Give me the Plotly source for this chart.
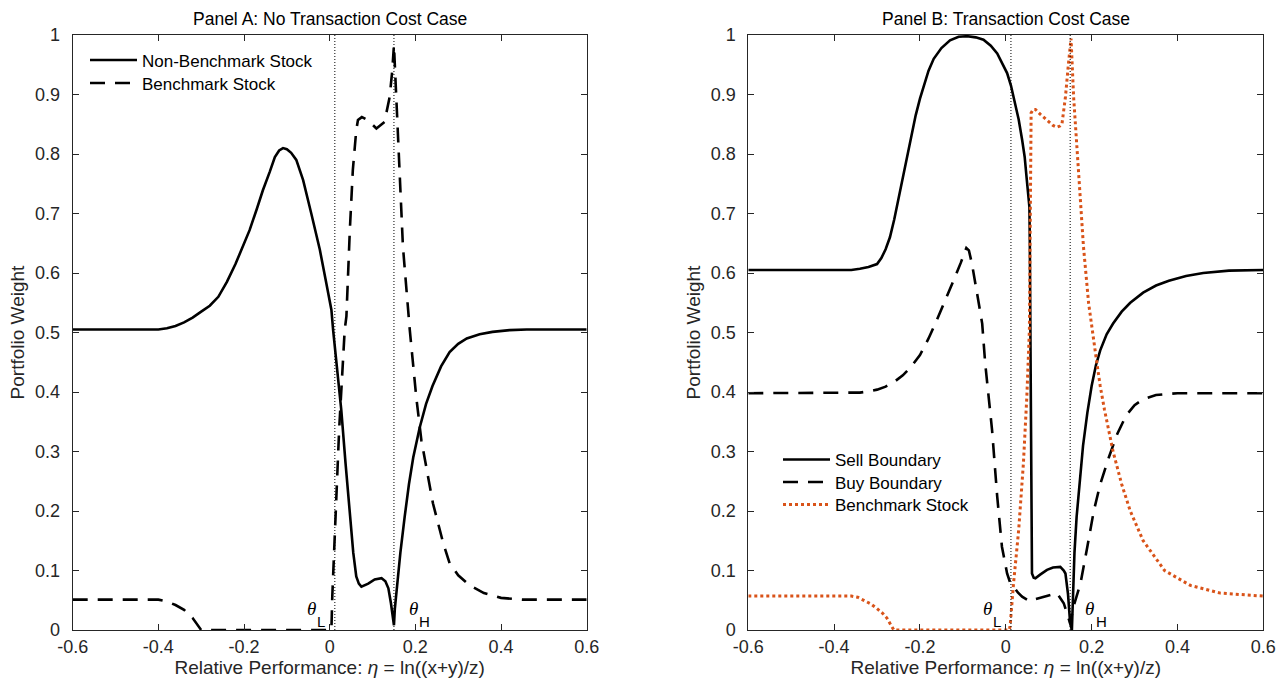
import plotly.graph_objects as go

# ---------------- Data ----------------
theta_L = 0.012
theta_H = 0.15

# Panel A: Non-Benchmark Stock (solid)
nb_a_x = [-0.6, -0.4, -0.38, -0.36, -0.34, -0.32, -0.30, -0.28, -0.26, -0.24, -0.22, -0.2, -0.187,
          -0.17, -0.156, -0.14, -0.128, -0.118, -0.109, -0.10, -0.09, -0.078, -0.062, -0.043, -0.023,
          -0.008, 0.004, 0.008, 0.017, 0.027, 0.037, 0.047, 0.055, 0.062, 0.068, 0.074, 0.082, 0.09,
          0.105, 0.121, 0.13, 0.137, 0.143, 0.147, 0.15, 0.152, 0.155, 0.16, 0.165, 0.175, 0.185,
          0.195, 0.21, 0.225, 0.24, 0.26, 0.28, 0.30, 0.32, 0.35, 0.38, 0.42, 0.46, 0.6]
nb_a_y = [0.505, 0.505, 0.507, 0.511, 0.517, 0.525, 0.535, 0.545, 0.56, 0.585, 0.615, 0.648, 0.672,
          0.708, 0.739, 0.77, 0.795, 0.806, 0.81, 0.808, 0.802, 0.79, 0.756, 0.70, 0.639,
          0.583, 0.538, 0.504, 0.44, 0.37, 0.28, 0.19, 0.13, 0.09, 0.078, 0.073, 0.075, 0.078,
          0.085, 0.087, 0.082, 0.07, 0.045, 0.025, 0.008, 0.035, 0.06, 0.095, 0.13, 0.19, 0.245,
          0.29, 0.34, 0.38, 0.41, 0.443, 0.467, 0.481, 0.49, 0.497, 0.501, 0.504, 0.505, 0.505]

# Panel A: Benchmark Stock (dashed)
bm_a_x = [-0.6, -0.40, -0.38, -0.36, -0.34, -0.32, -0.30, 0.0, 0.004, 0.006, 0.012, 0.022, 0.035,
          0.039, 0.047, 0.054, 0.062, 0.066, 0.075, 0.089, 0.109, 0.128, 0.14, 0.146, 0.15, 0.155,
          0.163, 0.171, 0.187, 0.202, 0.214, 0.241, 0.265, 0.28, 0.30, 0.327, 0.36, 0.40, 0.45, 0.6]
bm_a_y = [0.051, 0.051, 0.048, 0.042, 0.034, 0.02, 0.0, 0.0, 0.0, 0.056, 0.168, 0.336, 0.504,
          0.527, 0.672, 0.773, 0.84, 0.857, 0.862, 0.857, 0.843, 0.854, 0.896, 0.94, 0.983, 0.896,
          0.773, 0.644, 0.504, 0.392, 0.319, 0.213, 0.146, 0.112, 0.092, 0.075, 0.062, 0.054, 0.051, 0.051]

# Panel B: Sell Boundary (solid)
sell_b_x = [-0.6, -0.36, -0.34, -0.32, -0.30, -0.29, -0.28, -0.27, -0.26, -0.25, -0.24, -0.23,
            -0.22, -0.21, -0.20, -0.19, -0.18, -0.168, -0.15, -0.13, -0.11, -0.09, -0.07, -0.052,
            -0.035, -0.02, -0.01, 0.003, 0.012, 0.022, 0.03, 0.038, 0.044, 0.049, 0.053, 0.055,
            0.056, 0.057, 0.058, 0.059, 0.061, 0.065, 0.069, 0.08, 0.096, 0.11, 0.127, 0.135,
            0.139, 0.145, 0.15, 0.154, 0.156, 0.16, 0.165, 0.172, 0.18, 0.19, 0.20, 0.21, 0.22,
            0.235, 0.25, 0.27, 0.29, 0.32, 0.35, 0.38, 0.42, 0.46, 0.52, 0.6]
sell_b_y = [0.605, 0.605, 0.607, 0.61, 0.615, 0.625, 0.64, 0.66, 0.69, 0.725, 0.76, 0.795,
            0.83, 0.865, 0.893, 0.918, 0.94, 0.96, 0.978, 0.991, 0.997, 0.998, 0.996, 0.992,
            0.982, 0.969, 0.955, 0.936, 0.915, 0.885, 0.858, 0.824, 0.795, 0.756, 0.73, 0.711,
            0.65, 0.504, 0.3, 0.15, 0.095, 0.088, 0.087, 0.093, 0.101, 0.105, 0.106, 0.1,
            0.095, 0.06, 0.011, 0.0, 0.06, 0.13, 0.19, 0.25, 0.31, 0.365, 0.41, 0.445, 0.47,
            0.497, 0.515, 0.535, 0.55, 0.567, 0.579, 0.587, 0.595, 0.6, 0.604, 0.605]

# Panel B: Buy Boundary (dashed)
buy_b_x = [-0.6, -0.36, -0.34, -0.32, -0.30, -0.28, -0.26, -0.24, -0.22, -0.20, -0.18, -0.16,
           -0.14, -0.122, -0.105, -0.092, -0.086, -0.079, -0.067, -0.055, -0.048, -0.04,
           -0.032, -0.02, -0.009, 0.003, 0.01, 0.018, 0.028, 0.038, 0.057, 0.07, 0.088, 0.105,
           0.119, 0.135, 0.145, 0.15, 0.158, 0.174, 0.19, 0.205, 0.22, 0.24, 0.26, 0.28, 0.30,
           0.32, 0.35, 0.40, 0.45, 0.6]
buy_b_y = [0.398, 0.398, 0.399, 0.401, 0.404, 0.409, 0.417, 0.428, 0.443, 0.462, 0.49, 0.522,
           0.555, 0.587, 0.617, 0.642, 0.638, 0.616, 0.566, 0.515, 0.448, 0.39,
           0.336, 0.224, 0.14, 0.095, 0.08, 0.073, 0.063, 0.056, 0.048, 0.052, 0.056, 0.06,
           0.062, 0.045, 0.02, 0.011, 0.04, 0.078, 0.14, 0.2, 0.245, 0.29, 0.33, 0.36, 0.378,
           0.388, 0.395, 0.398, 0.398, 0.398]

# Panel B: Benchmark Stock (dotted)
bm_b_x = [-0.6, -0.36, -0.345, -0.331, -0.315, -0.30, -0.287, -0.277, -0.268, -0.261, 0.008, 0.01,
          0.018, 0.03, 0.041, 0.049, 0.055, 0.057, 0.059, 0.064, 0.069, 0.08, 0.096, 0.11, 0.119,
          0.126, 0.131, 0.139, 0.146, 0.152, 0.158, 0.166, 0.174, 0.181, 0.193, 0.20, 0.21, 0.22,
          0.23, 0.25, 0.27, 0.29, 0.32, 0.37, 0.43, 0.5, 0.6]
bm_b_y = [0.057, 0.057, 0.055, 0.05, 0.044, 0.036, 0.028, 0.02, 0.01, 0.0, 0.0, 0.006,
          0.078, 0.168, 0.28, 0.392, 0.504, 0.728, 0.869, 0.875, 0.875, 0.867, 0.857, 0.848, 0.845,
          0.847, 0.851, 0.896, 0.952, 0.994, 0.896, 0.812, 0.728, 0.644, 0.549, 0.51, 0.46, 0.41,
          0.37, 0.30, 0.245, 0.20, 0.15, 0.10, 0.075, 0.062, 0.057]

x_ticks = [-0.6, -0.4, -0.2, 0.0, 0.2, 0.4, 0.6]
x_tick_labels = ["-0.6", "-0.4", "-0.2", "0", "0.2", "0.4", "0.6"]
y_ticks = [0, 0.1, 0.2, 0.3, 0.4, 0.5, 0.6, 0.7, 0.8, 0.9, 1.0]
y_tick_labels = ["0", "0.1", "0.2", "0.3", "0.4", "0.5", "0.6", "0.7", "0.8", "0.9", "1"]

# ---------------- Figure ----------------
FONT = "Liberation Sans, Arial, Helvetica, sans-serif"
SERIF = "Liberation Serif, Times New Roman, serif"
AXC = "#262626"
ORANGE = "#D95319"
LW = 2.6
W, H = 1278, 690

fig = go.Figure()

fig.add_trace(go.Scatter(x=nb_a_x, y=nb_a_y, mode="lines", name="Non-Benchmark Stock",
                         line=dict(color="black", width=LW), xaxis="x", yaxis="y",
                         legend="legend"))
fig.add_trace(go.Scatter(x=bm_a_x, y=bm_a_y, mode="lines", name="Benchmark Stock",
                         line=dict(color="black", width=LW, dash="15px,10px"), xaxis="x", yaxis="y",
                         legend="legend2"))
fig.add_trace(go.Scatter(x=sell_b_x, y=sell_b_y, mode="lines", name="Sell Boundary",
                         line=dict(color="black", width=LW), xaxis="x2", yaxis="y2",
                         legend="legend3"))
fig.add_trace(go.Scatter(x=buy_b_x, y=buy_b_y, mode="lines", name="Buy Boundary",
                         line=dict(color="black", width=LW, dash="15px,10px"), xaxis="x2", yaxis="y2",
                         legend="legend4"))
fig.add_trace(go.Scatter(x=bm_b_x, y=bm_b_y, mode="lines", name="Benchmark Stock",
                         line=dict(color=ORANGE, width=3, dash="3px,3px"), xaxis="x2", yaxis="y2",
                         legend="legend5"))

# vertical dotted theta lines
for xa, ya in (("x", "y"), ("x2", "y2")):
    for t in (theta_L, theta_H):
        fig.add_shape(type="line", xref=xa, yref=ya, x0=t, x1=t, y0=0, y1=1,
                      line=dict(color="black", width=1, dash="1px,2px"), layer="above")

# theta labels (theta glyph + lowered subscript)
for xa, ya in (("x", "y"), ("x2", "y2")):
    for t, sub, dth, dsub in ((theta_L, "L", -0.055, -0.032), (theta_H, "H", 0.046, 0.072)):
        fig.add_annotation(x=t + dth, y=0.036, xref=xa, yref=ya, xanchor="center", yanchor="middle",
                           showarrow=False, text="<i>θ</i>",
                           font=dict(family=SERIF, size=19, color="black"))
        fig.add_annotation(x=t + dsub, y=0.014, xref=xa, yref=ya, xanchor="center", yanchor="middle",
                           showarrow=False, text=sub,
                           font=dict(family=FONT, size=15, color="black"))

# panel titles
for xa, ya, t in (("x", "y", "Panel A: No Transaction Cost Case"),
                  ("x2", "y2", "Panel B: Transaction Cost Case")):
    fig.add_annotation(x=0.5, y=1, xref=xa + " domain", yref=ya + " domain", xanchor="center",
                       yanchor="bottom", yshift=4, showarrow=False, text=t,
                       font=dict(family=FONT, size=17.5, color="black"))

dom_a = [72.7 / W, 586.7 / W]
dom_b = [748.3 / W, 1263.3 / W]
dom_y = [1 - 630 / H, 1 - 35 / H]

xcommon = dict(range=[-0.6, 0.6], tickvals=x_ticks, ticktext=x_tick_labels, ticks="inside",
               ticklen=6, tickcolor=AXC, showline=True, linecolor=AXC, linewidth=1, mirror="ticks",
               showgrid=False, zeroline=False, automargin=False, ticklabelstandoff=0,
               tickfont=dict(family=FONT, size=18, color=AXC),
               title=dict(text="Relative Performance: <i>η</i> = ln((x+y)/z)",
                          font=dict(family=FONT, size=19, color=AXC), standoff=0))
ycommon = dict(range=[0, 1], tickvals=y_ticks, ticktext=y_tick_labels, ticks="inside",
               ticklen=6, tickcolor=AXC, showline=True, linecolor=AXC, linewidth=1, mirror="ticks",
               showgrid=False, zeroline=False, automargin=False, ticklabelstandoff=8,
               tickfont=dict(family=FONT, size=18, color=AXC),
               title=dict(text="Portfolio Weight", font=dict(family=FONT, size=19, color=AXC),
                          standoff=5))


def leg(xpx, row_center_px):
    return dict(x=xpx / W, y=1 - (row_center_px - 18.5) / H, xanchor="left", yanchor="top",
                bgcolor="rgba(0,0,0,0)", borderwidth=0,
                font=dict(family=FONT, size=17, color="black"), itemwidth=47)


fig.update_layout(
    width=W, height=H,
    margin=dict(l=0, r=0, t=0, b=0),
    paper_bgcolor="white", plot_bgcolor="white",
    xaxis=dict(domain=dom_a, anchor="y", **xcommon),
    yaxis=dict(domain=dom_y, anchor="x", **ycommon),
    xaxis2=dict(domain=dom_b, anchor="y2", **xcommon),
    yaxis2=dict(domain=dom_y, anchor="x2", **ycommon),
    legend=leg(85, 61),
    legend2=leg(85, 84),
    legend3=leg(778, 460.5),
    legend4=leg(778, 483),
    legend5=leg(778, 505.5),
    showlegend=True,
)

fig.write_html("out.html")
